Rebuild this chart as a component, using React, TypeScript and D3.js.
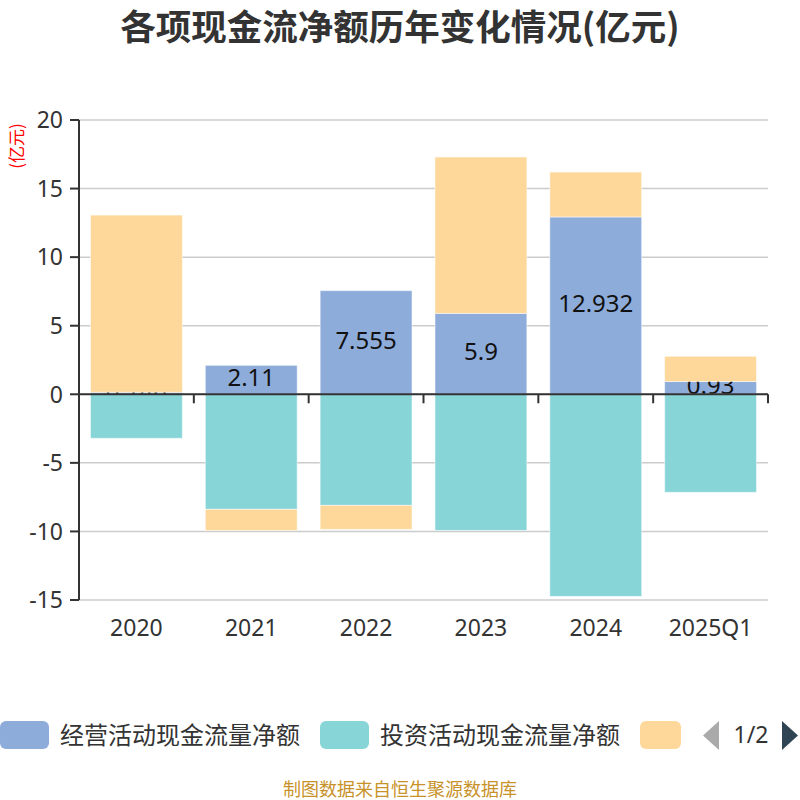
import React, { useRef, useEffect } from "react";
import * as d3 from "d3";

const years = ["2020", "2021", "2022", "2023", "2024", "2025Q1"];
const operating = [0.146, 2.11, 7.555, 5.9, 12.932, 0.93];
const investing = [-3.21, -8.39, -8.1, -9.93, -14.74, -7.15];
const financing = [12.92, -1.54, -1.75, 11.4, 3.27, 1.84];
const seriesNames = ["经营活动现金流量净额", "投资活动现金流量净额", "筹资活动现金流量净额"];
const seriesColors = ["#8eacda", "#88d5d8", "#fed89a"];
const yTicks = [-15, -10, -5, 0, 5, 10, 15, 20];

const FONT = "'Noto Sans CJK SC', 'Noto Sans', sans-serif";
const NUM_FONT = "'Noto Sans', 'Open Sans', sans-serif";

export default function App() {
  const svgRef = useRef<SVGSVGElement>(null);

  useEffect(() => {
    if (!svgRef.current) return;
    const svg = d3.select(svgRef.current);
    svg.selectAll("*").remove();

    const left = 79;
    const right = 768;
    const top = 120;
    const bottom = 600;

    const x = d3.scaleBand<string>().domain(years).range([left, right]).paddingInner(0.2).paddingOuter(0.1);
    const band = d3.scaleBand<string>().domain(years).range([left, right]);
    const y = d3.scaleLinear().domain([-15, 20]).range([bottom, top]);

    // title
    svg
      .append("text")
      .attr("x", 400)
      .attr("y", 40)
      .attr("text-anchor", "middle")
      .attr("font-family", FONT)
      .attr("font-weight", "bold")
      .attr("font-size", 35.5)
      .attr("fill", "#333")
      .text("各项现金流净额历年变化情况(亿元)");

    // unit
    svg
      .append("text")
      .attr("transform", "translate(23,146) rotate(-90)")
      .attr("text-anchor", "middle")
      .attr("font-family", FONT)
      .attr("font-size", 17)
      .attr("fill", "#ff0000")
      .text("(亿元)");

    // grid
    svg
      .append("g")
      .selectAll("line")
      .data(yTicks)
      .enter()
      .append("line")
      .attr("x1", left)
      .attr("x2", right)
      .attr("y1", (d) => y(d))
      .attr("y2", (d) => y(d))
      .attr("stroke", "#cccccc")
      .attr("stroke-width", 1.5);

    // y axis
    const yAxis = svg.append("g");
    yAxis
      .append("line")
      .attr("x1", left)
      .attr("x2", left)
      .attr("y1", top)
      .attr("y2", bottom)
      .attr("stroke", "#333")
      .attr("stroke-width", 2);
    yAxis
      .selectAll(".tick")
      .data(yTicks)
      .enter()
      .append("line")
      .attr("x1", left - 9)
      .attr("x2", left)
      .attr("y1", (d) => y(d))
      .attr("y2", (d) => y(d))
      .attr("stroke", "#333")
      .attr("stroke-width", 2);
    yAxis
      .selectAll("text")
      .data(yTicks)
      .enter()
      .append("text")
      .attr("x", left - 16)
      .attr("y", (d) => y(d))
      .attr("dy", "0.36em")
      .attr("text-anchor", "end")
      .attr("font-family", NUM_FONT)
      .attr("font-size", 23)
      .attr("fill", "#333")
      .text((d) => d);

    // bars
    const table = years.map((yr, i) => ({
      year: yr,
      s0: operating[i],
      s1: investing[i],
      s2: financing[i],
    }));
    const stack = d3
      .stack<any>()
      .keys(["s0", "s1", "s2"])
      .order(d3.stackOrderNone)
      .offset(d3.stackOffsetDiverging);
    const stacked = stack(table);

    stacked.forEach((layer, si) => {
      const g = svg.append("g");
      g.selectAll("rect")
        .data(layer)
        .enter()
        .append("rect")
        .attr("x", (d) => x(d.data.year)!)
        .attr("width", x.bandwidth())
        .attr("y", (d) => y(Math.max(d[0], d[1])))
        .attr("height", (d) => Math.abs(y(d[0]) - y(d[1])))
        .attr("fill", seriesColors[si])
        .attr("stroke", "rgba(255,255,255,0.5)")
        .attr("stroke-width", 1);
      if (si === 0) {
        g.selectAll("text")
          .data(layer)
          .enter()
          .append("text")
          .attr("x", (d) => x(d.data.year)! + x.bandwidth() / 2)
          .attr("y", (d) => (y(d[0]) + y(d[1])) / 2)
          .attr("dy", "0.26em")
          .attr("text-anchor", "middle")
          .attr("font-family", NUM_FONT)
          .attr("font-size", 24)
          .attr("fill", "#111")
          .text((d) => String(d.data.s0));
      }
    });

    // zero axis
    const xAxis = svg.append("g");
    xAxis
      .append("line")
      .attr("x1", left)
      .attr("x2", right)
      .attr("y1", y(0))
      .attr("y2", y(0))
      .attr("stroke", "#333")
      .attr("stroke-width", 2);
    const edges = years.map((yr) => band(yr)!).concat([right]);
    xAxis
      .selectAll(".tk")
      .data(edges)
      .enter()
      .append("line")
      .attr("x1", (d) => d)
      .attr("x2", (d) => d)
      .attr("y1", y(0))
      .attr("y2", y(0) + 9)
      .attr("stroke", "#333")
      .attr("stroke-width", 2);
    svg
      .append("g")
      .selectAll("text")
      .data(years)
      .enter()
      .append("text")
      .attr("x", (d) => band(d)! + band.bandwidth() / 2)
      .attr("y", 636)
      .attr("text-anchor", "middle")
      .attr("font-family", NUM_FONT)
      .attr("font-size", 23)
      .attr("fill", "#333")
      .text((d) => d);

    // legend (paged)
    const legend = svg.append("g");
    const items = [
      { x: 0, w: 49, name: seriesNames[0], color: seriesColors[0] },
      { x: 320, w: 49, name: seriesNames[1], color: seriesColors[1] },
      { x: 640, w: 41, name: "", color: seriesColors[2] },
    ];
    items.forEach((it) => {
      legend
        .append("rect")
        .attr("x", it.x)
        .attr("y", 721)
        .attr("width", it.w)
        .attr("height", 28)
        .attr("rx", 6)
        .attr("fill", it.color);
      if (it.name) {
        legend
          .append("text")
          .attr("x", it.x + 60)
          .attr("y", 735)
          .attr("dy", "0.36em")
          .attr("font-family", FONT)
          .attr("font-size", 24)
          .attr("fill", "#333")
          .text(it.name);
      }
    });
    legend
      .append("path")
      .attr("d", "M719,721 L719,750 L703,735.5 Z")
      .attr("fill", "#aaaaaa");
    legend
      .append("text")
      .attr("x", 751)
      .attr("y", 735)
      .attr("dy", "0.36em")
      .attr("text-anchor", "middle")
      .attr("font-family", NUM_FONT)
      .attr("font-size", 23)
      .attr("fill", "#333")
      .text("1/2");
    legend
      .append("path")
      .attr("d", "M782,721 L782,750 L798,735.5 Z")
      .attr("fill", "#2f4554");

    // footer
    svg
      .append("text")
      .attr("x", 400)
      .attr("y", 796)
      .attr("text-anchor", "middle")
      .attr("font-family", FONT)
      .attr("font-size", 18)
      .attr("fill", "#c8922a")
      .text("制图数据来自恒生聚源数据库");
  }, []);

  return (
    <svg
      ref={svgRef}
      width={800}
      height={800}
      viewBox="0 0 800 800"
      style={{ position: "absolute", left: 0, top: 0, background: "#fff" }}
    />
  );
}
